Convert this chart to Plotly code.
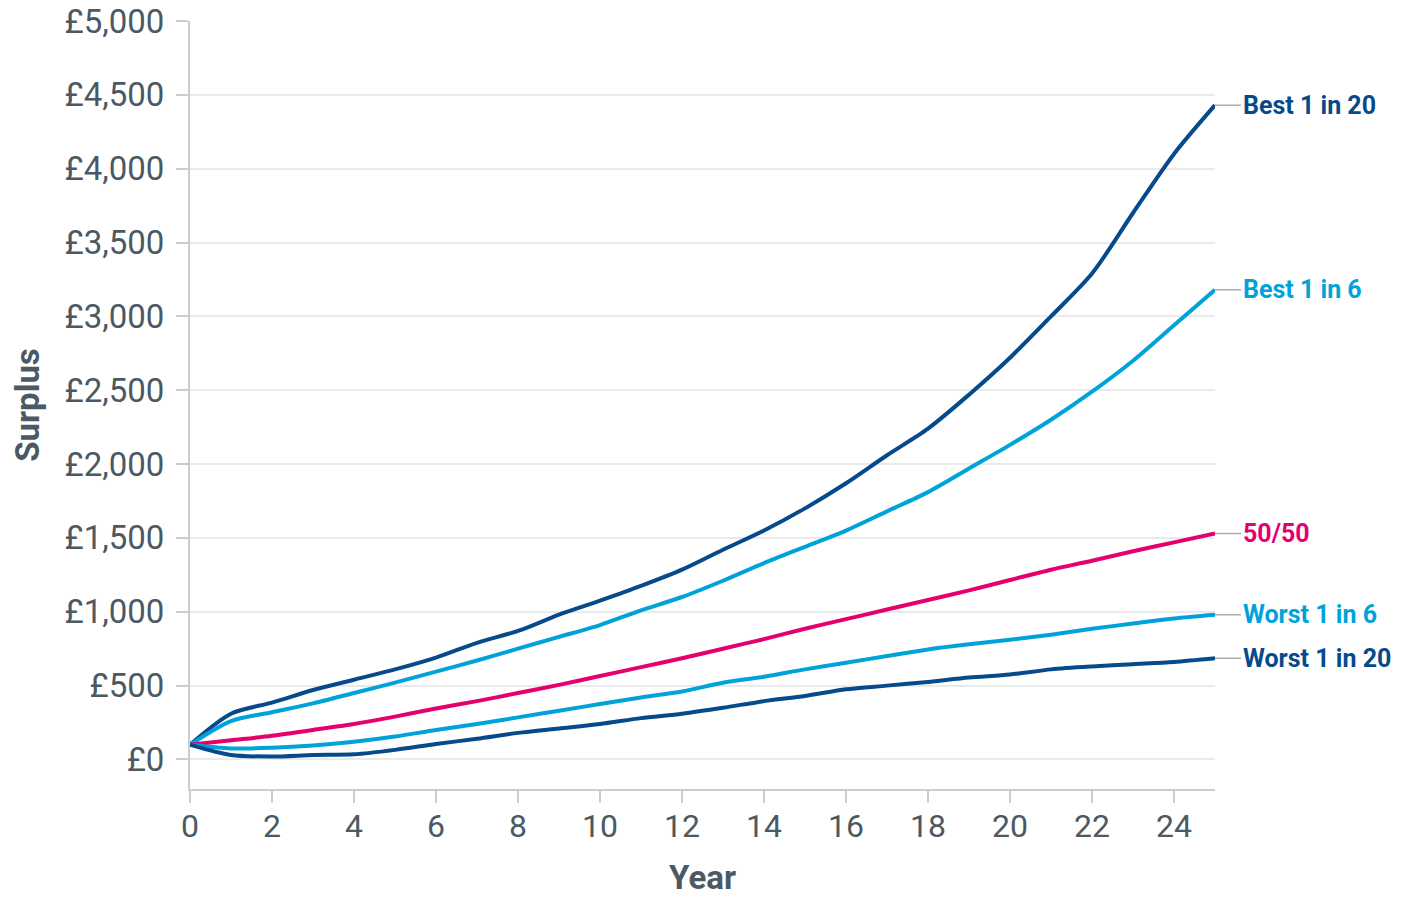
import plotly.graph_objects as go

years = list(range(26))
best_1_in_20 = [100, 310, 385, 470, 540, 610, 690, 790, 870, 980, 1075, 1175, 1285, 1420, 1550,
                1700, 1870, 2060, 2240, 2470, 2720, 3000, 3290, 3700, 4100, 4430]
best_1_in_6 = [100, 260, 320, 380, 450, 520, 595, 670, 750, 830, 910, 1010, 1100, 1210, 1330,
               1440, 1550, 1680, 1810, 1970, 2130, 2300, 2490, 2700, 2940, 3180]
fifty_fifty = [100, 130, 160, 200, 240, 290, 345, 395, 450, 505, 565, 625, 685, 750, 815,
               885, 950, 1015, 1080, 1145, 1215, 1285, 1345, 1410, 1470, 1530]
worst_1_in_6 = [100, 75, 80, 95, 120, 155, 200, 240, 285, 330, 375, 420, 460, 520, 560,
                610, 655, 700, 745, 780, 810, 845, 885, 920, 955, 980]
worst_1_in_20 = [100, 30, 20, 30, 35, 65, 105, 140, 180, 210, 240, 280, 310, 350, 395,
                 430, 475, 500, 525, 555, 575, 610, 630, 645, 660, 685]

series_names = ["Best 1 in 20", "Best 1 in 6", "50/50", "Worst 1 in 6", "Worst 1 in 20"]
series_values = [best_1_in_20, best_1_in_6, fifty_fifty, worst_1_in_6, worst_1_in_20]

NAVY = "#064a8c"
LIGHT = "#00a3d9"
PINK = "#e5006d"
series_colors = [NAVY, LIGHT, PINK, LIGHT, NAVY]
TEXT = "#4a5964"
AXIS = "#c9ced3"
GRID = "#e8eaec"

fig = go.Figure()
for name, vals, col in zip(series_names, series_values, series_colors):
    fig.add_trace(go.Scatter(x=years, y=vals, mode="lines", name=name,
                             line=dict(color=col, width=4, shape="spline", smoothing=0.8),
                             showlegend=False, hoverinfo="skip", cliponaxis=False))
    fig.add_annotation(x=years[-1], y=vals[-1], text=f"<b>{name}</b>",
                       showarrow=True, arrowhead=0, arrowwidth=1.5, arrowcolor="#a8adb2",
                       ax=26, ay=0, xanchor="left", yanchor="middle",
                       font=dict(family="Roboto", size=25, color=col))

fig.update_layout(
    width=1393, height=889,
    margin=dict(l=182, r=186, t=13, b=108),
    paper_bgcolor="white", plot_bgcolor="white",
    font=dict(family="Roboto", color=TEXT),
    xaxis=dict(range=[0, 25], tick0=0, dtick=2, showgrid=False, zeroline=False,
               showline=True, linecolor=AXIS, linewidth=2, automargin=False,
               ticks="outside", ticklen=12, tickcolor=AXIS, tickwidth=2,
               ticklabelstandoff=-4,
               tickfont=dict(size=32, color=TEXT),
               title=dict(text="<b>Year</b>", font=dict(size=33, color=TEXT), standoff=31)),
    yaxis=dict(range=[-200, 5000], tick0=0, dtick=500, tickprefix="£", tickformat=",",
               showgrid=True, gridcolor=GRID, gridwidth=1.5, zeroline=False,
               showline=True, linecolor=AXIS, linewidth=2, automargin=False,
               ticks="outside", ticklen=12, tickcolor=AXIS, tickwidth=2,
               ticklabelstandoff=5, ticklabeloverflow="allow",
               tickfont=dict(size=33, color=TEXT),
               title=dict(text="<b>Surplus</b>", font=dict(size=33, color=TEXT), standoff=24)),
)

fig.write_html("out.html")
